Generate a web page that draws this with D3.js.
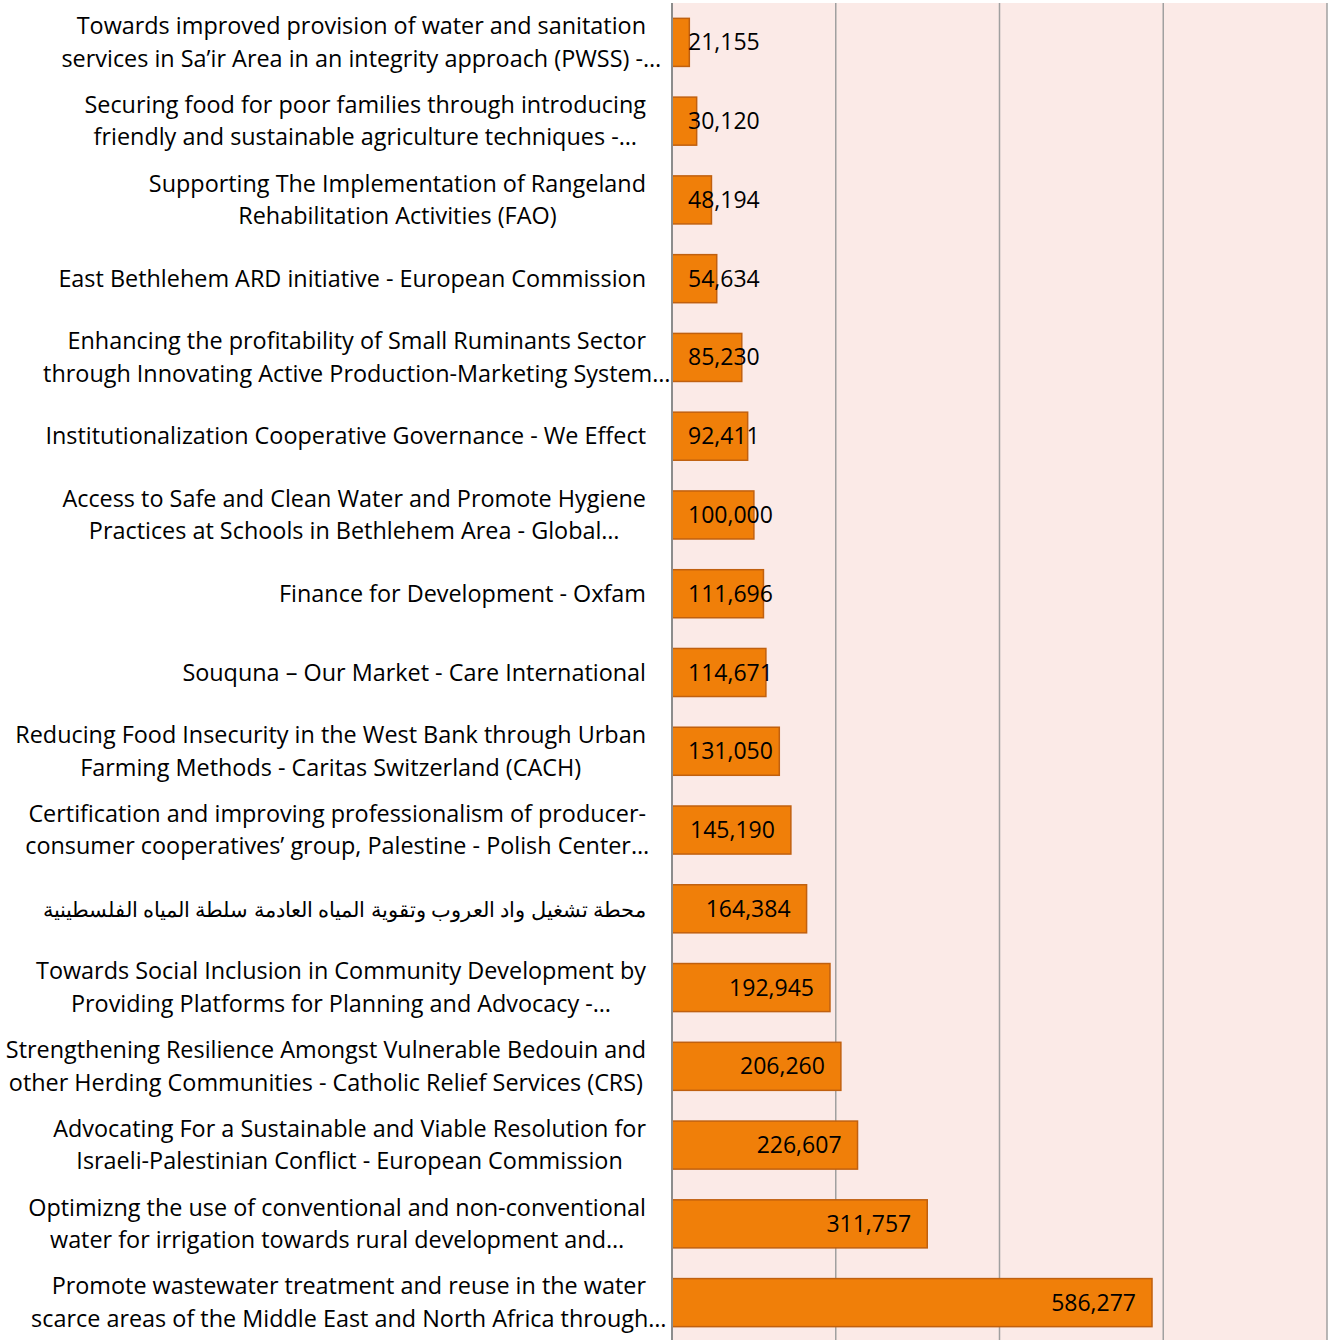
<!DOCTYPE html>
<html>
<head>
<meta charset="utf-8">
<script src="https://cdn.jsdelivr.net/npm/d3@7"></script>
<style>
  body { margin: 0; background: #fff; }
  text { font-family: "Open Sans", sans-serif; }
</style>
</head>
<body>
<div id="chart"></div>
<script>
// project names, top to bottom, already broken into the lines shown
var projects = [
    "Towards improved provision of water and sanitation\nservices in Sa\u2019ir Area in an integrity approach (PWSS) -\u2026",
    "Securing food for poor families through introducing\nfriendly and sustainable agriculture techniques -\u2026",
    "Supporting The Implementation of Rangeland\nRehabilitation Activities (FAO)",
    "East Bethlehem ARD initiative - European Commission",
    "Enhancing the profitability of Small Ruminants Sector\nthrough Innovating Active Production-Marketing System\u2026",
    "Institutionalization Cooperative Governance - We Effect",
    "Access to Safe and Clean Water and Promote Hygiene\nPractices at Schools in Bethlehem Area - Global\u2026",
    "Finance for Development -  Oxfam",
    "Souquna \u2013 Our Market - Care International",
    "Reducing Food Insecurity in the West Bank through Urban\nFarming Methods - Caritas  Switzerland (CACH)",
    "Certification and improving professionalism of producer-\nconsumer cooperatives\u2019 group, Palestine - Polish Center\u2026",
    "محطة تشغيل واد العروب وتقوية المياه العادمة سلطة المياه الفلسطينية",
    "Towards Social Inclusion in Community Development by\nProviding Platforms for Planning and Advocacy -\u2026",
    "Strengthening Resilience Amongst Vulnerable Bedouin and\nother Herding Communities - Catholic Relief Services (CRS)",
    "Advocating For a Sustainable and Viable Resolution for\nIsraeli-Palestinian Conflict  - European Commission",
    "Optimizng the use of conventional and non-conventional\nwater for irrigation towards rural development and\u2026",
    "Promote wastewater treatment and reuse in the water\nscarce areas of the Middle East and North Africa through\u2026"
];
var budgets = [21155, 30120, 48194, 54634, 85230, 92411, 100000, 111696, 114671,
    131050, 145190, 164384, 192945, 206260, 226607, 311757, 586277];
var gridTicks = [200000, 400000, 600000, 800000];

var width = 1330, height = 1340;
var margin = { top: 3, right: 3, bottom: -2, left: 672 };
var labelRight = 646;
var fontSize = 23.4;

var svg = d3.select("#chart").append("svg")
    .attr("width", width)
    .attr("height", height);

var x = d3.scaleLinear()
    .domain([0, 800000])
    .range([margin.left, width - margin.right]);

var y = d3.scaleBand()
    .domain(projects)
    .range([margin.top, height - margin.bottom])
    .paddingInner(0.39)
    .paddingOuter(0.195);

// plot background
svg.append("rect")
    .attr("x", x(0))
    .attr("y", margin.top)
    .attr("width", x(800000) - x(0))
    .attr("height", height - margin.top - margin.bottom)
    .attr("fill", "#fbeae7");

svg.append("g")
    .selectAll("line")
    .data(gridTicks)
    .enter().append("line")
    .attr("x1", d => x(d)).attr("x2", d => x(d))
    .attr("y1", margin.top).attr("y2", height)
    .attr("stroke", "#a0a0a0")
    .attr("stroke-width", 1.5);

var fmt = d3.format(",");

var rows = svg.append("g")
    .selectAll("g")
    .data(projects.map((p, i) => ({ name: p, value: budgets[i] })))
    .enter().append("g");

rows.append("rect")
    .attr("x", x(0))
    .attr("y", d => y(d.name))
    .attr("width", d => x(d.value) - x(0))
    .attr("height", y.bandwidth())
    .attr("fill", "#f07f09")
    .attr("stroke", "#c0600f")
    .attr("stroke-width", 1.5);

// value labels, inside end, pushed right when bar is too short
rows.append("text")
    .text(d => fmt(d.value))
    .attr("y", d => y(d.name) + y.bandwidth() / 2 + 8)
    .attr("font-size", 23)
    .attr("fill", "#000")
    .each(function (d) {
        var w = this.getComputedTextLength();
        var left = Math.max(x(0) + 16, x(d.value) - 16 - w);
        d3.select(this).attr("x", left);
    });

// category labels: lines centred on each other, block right aligned by its first line
rows.append("text")
    .attr("font-size", fontSize)
    .attr("fill", "#000")
    .each(function (d) {
        var t = d3.select(this);
        var cy = y(d.name) + y.bandwidth() / 2;
        if (/[\u0600-\u06ff]/.test(d.name)) {
            // arabic title: one line, shrunk to the width it takes in the picture
            t.text(d.name).attr("text-anchor", "end").attr("x", labelRight).attr("y", cy + 8);
            var wa = this.getComputedTextLength();
            if (wa > 586) t.attr("font-size", fontSize * 586 / wa);
            return;
        }
        var lines = d.name.split("\n");
        var lh = 32.5;
        t.attr("text-anchor", "middle");
        var spans = lines.map((ln, i) => t.append("tspan")
            .attr("y", cy + 8 + (i - (lines.length - 1) / 2) * lh)
            .text(ln));
        var w1 = spans[0].node().getComputedTextLength();
        spans.forEach(s => s.attr("x", labelRight - w1 / 2));
    });

// axis line
svg.append("line")
    .attr("x1", x(0)).attr("x2", x(0))
    .attr("y1", margin.top).attr("y2", height)
    .attr("stroke", "#8c8c8c")
    .attr("stroke-width", 2);
</script>
</body>
</html>
